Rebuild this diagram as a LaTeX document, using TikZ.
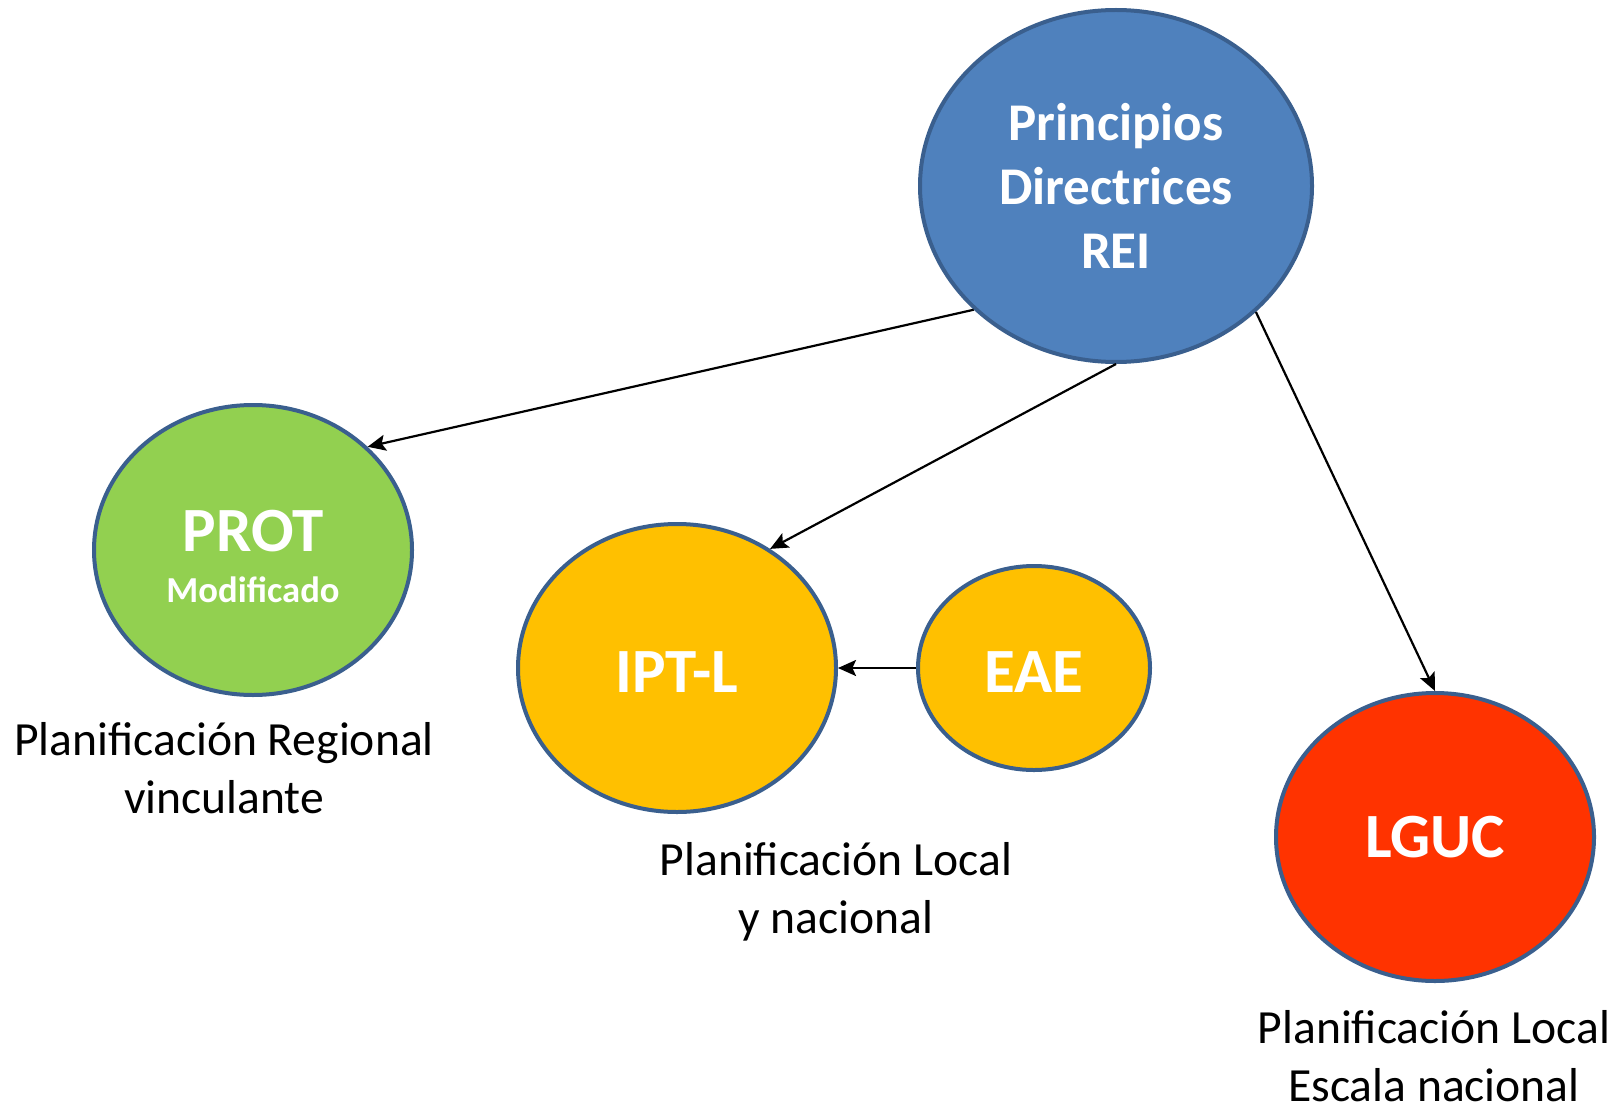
\documentclass[tikz,border=0pt]{standalone}
\usepackage{fontspec}
\setmainfont{Carlito}
\usetikzlibrary{shapes.geometric,arrows.meta}
\definecolor{edgeblue}{HTML}{3A5F8E}
\definecolor{fillblue}{HTML}{4F81BD}
\definecolor{fillgreen}{HTML}{92D050}
\definecolor{fillorange}{HTML}{FFC000}
\definecolor{fillred}{HTML}{FF3300}
\begin{document}
\begin{tikzpicture}[x=0.5pt,y=-0.5pt,
  oval/.style={ellipse,draw=edgeblue,line width=2pt,inner sep=0pt,text=white,align=center},
  conn/.style={line width=1.1pt,-{Stealth[length=9pt,width=8pt,inset=1.8pt]}},
  lbl/.style={align=center,font=\fontsize{23.8}{29}\selectfont}]
\useasboundingbox (0,0) rectangle (1620,1107);
\node[oval,fill=fillblue,minimum width=196pt,minimum height=176pt,
  font=\fontsize{26.5}{32}\selectfont\bfseries] (pr) at (1116,186) {Principios\\Directrices\\REI};
\node[oval,fill=fillgreen,minimum width=159pt,minimum height=145pt,
  font=\fontsize{31.5}{25.5}\selectfont\bfseries] (prot) at (253,550)
  {\rule{0pt}{27pt}PROT\\{\fontsize{18.3}{25.5}\selectfont Modificado}};
\node[oval,fill=fillorange,minimum width=159pt,minimum height=144pt,
  font=\fontsize{31.5}{36}\selectfont\bfseries] (ipt) at (677,668) {\rule{0pt}{24pt}IPT-L};
\node[oval,fill=fillorange,minimum width=116pt,minimum height=102pt,
  font=\fontsize{31.5}{36}\selectfont\bfseries] (eae) at (1034,668) {\rule{0pt}{24pt}EAE};
\node[oval,fill=fillred,minimum width=159pt,minimum height=144pt,
  font=\fontsize{31.5}{36}\selectfont\bfseries] (lguc) at (1435,837) {LGUC};
\node[lbl] (l1) at (224,768) {Planificación Regional\\vinculante};
\node[lbl] (l2) at (836,892) {Planificación Local\\y nacional};
\node[lbl] (l3) at (1434,1056) {Planificación Local\\Escala nacional};
\draw[conn] (pr.221) -- (prot.42);
\draw[conn] (pr.south) -- (ipt.52);
\draw[conn] (pr.-42) -- (lguc.north);
\draw[conn] (eae.west) -- (ipt.east);
\end{tikzpicture}
\end{document}
